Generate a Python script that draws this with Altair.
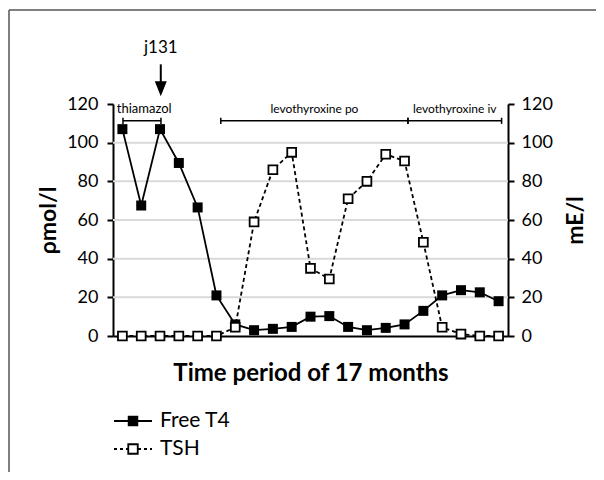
import altair as alt
import pandas as pd

FONT = "Lato"

# ---- data ----
months = list(range(21))
free_t4 = [107, 67.5, 107, 89.5, 66.5, 21, 6, 3, 3.7, 4.7, 10, 10.3, 4.7, 3, 4.2, 6, 13, 21, 23.7, 22.6, 18]
tsh = [0, 0, 0, 0, 0, 0, 4.5, 59, 86, 95, 35, 29.5, 71, 80, 94, 90.5, 48.5, 4.5, 1, 0, 0]
grid_values = [20, 40, 60, 80, 100]
y_ticks = [0, 20, 40, 60, 80, 100, 120]

bracket_labels = ["thiamazol", "levothyroxine po", "levothyroxine iv"]
bracket_start = [0.03, 5.23, 15.18]
bracket_end = [2.05, 15.18, 20.16]
label_x = [-0.3, 10.21, 17.67]
bracket_level = 111.3
label_level = 117.5

arrow_label = "j131"
arrow_x = 2.04
arrow_top = 140.5
arrow_bottom = 128.5
arrow_head = 127.9
arrow_text = 149.0

legend_labels = ["Free T4", "TSH"]

# ---- tables ----
df = pd.DataFrame({"i": months, "t4": free_t4, "tsh": tsh})
grid_df = pd.DataFrame({"g": grid_values})
br_df = pd.DataFrame({"xs": bracket_start, "xe": bracket_end,
                      "y": [bracket_level] * 3})
ends = bracket_start + bracket_end
br_end_df = pd.DataFrame({"x": ends,
                          "y1": [bracket_level - 1.6] * len(ends),
                          "y2": [bracket_level + 1.6] * len(ends)})
lab_df = pd.DataFrame({"x": label_x, "y": [label_level] * 3, "t": bracket_labels})
arrow_df = pd.DataFrame({"x": [arrow_x], "y1": [arrow_top], "y2": [arrow_bottom],
                         "h": [arrow_head], "ty": [arrow_text], "t": [arrow_label]})

xs = alt.Scale(domain=[-0.5, 20.5], nice=False, zero=False)
xaxis = alt.Axis(labels=False, ticks=False, grid=False, domainColor="black",
                 domainWidth=2, title="Time period of 17 months", titleFont=FONT,
                 titleFontSize=24, titleFontWeight="bold", titleColor="black",
                 titleY=37, titleBaseline="middle")
ys = alt.Scale(domain=[0, 120], nice=False, zero=True)

yaxis_left = alt.Axis(orient="left", values=y_ticks, grid=False, domainColor="black",
                      domainWidth=2, tickColor="black", tickWidth=2, tickSize=6,
                      labelFont=FONT, labelFontSize=18, labelColor="black",
                      labelPadding=9, title="ρmol/l", titleFont=FONT, titleFontSize=23,
                      titleFontWeight="bold", titleColor="black", titleX=-65,
                      titleBaseline="middle", titleAngle=270)
yaxis_right = alt.Axis(orient="right", values=y_ticks, grid=False, domainColor="black",
                       domainWidth=2, tickColor="black", tickWidth=2, tickSize=6,
                       labelFont=FONT, labelFontSize=18, labelColor="black",
                       labelPadding=7, title="mE/l", titleFont=FONT, titleFontSize=23,
                       titleFontWeight="bold", titleColor="black", titleX=67,
                       titleBaseline="middle", titleAngle=270)


def X(f):
    return alt.X(f, type="quantitative", scale=xs, axis=xaxis)


def YL(f):
    return alt.Y(f, type="quantitative", scale=ys, axis=yaxis_left)


def YR(f):
    return alt.Y(f, type="quantitative", scale=ys, axis=yaxis_right)


base = alt.Chart(df)

grid = alt.Chart(grid_df).mark_rule(color="#d9d9d9", strokeWidth=2).encode(
    y=YL("g:Q"))

t4_line = base.mark_line(color="black", strokeWidth=1.8).encode(x=X("i"), y=YL("t4"))
t4_pts = base.mark_point(shape="square", size=100, filled=True, color="black",
                         opacity=1).encode(x=X("i"), y=YL("t4"))

brackets = alt.Chart(br_df).mark_rule(color="black", strokeWidth=1.5).encode(
    x=X("xs"), x2="xe", y=YL("y"))
br_ends = alt.Chart(br_end_df).mark_rule(color="black", strokeWidth=1.5).encode(
    x=X("x"), y=YL("y1"), y2="y2")
lab_left = alt.Chart(lab_df.iloc[[0]]).mark_text(
    font=FONT, fontSize=13, align="left", baseline="middle", color="black").encode(
    x=X("x"), y=YL("y"), text="t")
lab_center = alt.Chart(lab_df.iloc[1:]).mark_text(
    font=FONT, fontSize=12, align="center", baseline="middle", color="black").encode(
    x=X("x"), y=YL("y"), text="t")

arrow_shaft = alt.Chart(arrow_df).mark_rule(color="black", strokeWidth=2).encode(
    x=X("x"), y=YL("y1"), y2="y2")
arrow_tip = alt.Chart(arrow_df).mark_point(
    shape="M-0.8,-1L0.8,-1L0,1Z", size=225, filled=True, color="black", opacity=1).encode(
    x=X("x"), y=YL("h"))
arrow_txt = alt.Chart(arrow_df).mark_text(
    font=FONT, fontSize=17, align="center", baseline="middle", color="black").encode(
    x=X("x"), y=YL("ty"), text="t")

left = alt.layer(grid, t4_line, t4_pts, brackets, br_ends, lab_left, lab_center,
                 arrow_shaft, arrow_tip, arrow_txt)

tsh_line = base.mark_line(color="black", strokeWidth=1.8, strokeDash=[4, 3]).encode(
    x=X("i"), y=YR("tsh"))
tsh_pts = base.mark_point(shape="square", size=78, filled=True, fill="white",
                          stroke="black", strokeWidth=1.8, opacity=1).encode(
    x=X("i"), y=YR("tsh"))

right = alt.layer(tsh_line, tsh_pts)

# ---- legend and frame (pixel placement) ----
one = pd.DataFrame({"t": [legend_labels[0]]})
two = pd.DataFrame({"t": [legend_labels[1]]})
leg1_line = alt.Chart(one).mark_rule(color="black", strokeWidth=1.8).encode(
    x=alt.value(1), x2=alt.value(39), y=alt.value(317))
leg1_pt = alt.Chart(one).mark_point(shape="square", size=110, filled=True, color="black",
                                    opacity=1).encode(x=alt.value(20), y=alt.value(317))
leg1_txt = alt.Chart(one).mark_text(font=FONT, fontSize=21, align="left",
                                    baseline="middle", color="black").encode(
    x=alt.value(47), y=alt.value(317), text="t")
leg2_line = alt.Chart(two).mark_rule(color="black", strokeWidth=1.8,
                                     strokeDash=[3, 3]).encode(
    x=alt.value(1), x2=alt.value(39), y=alt.value(345))
leg2_pt = alt.Chart(two).mark_point(shape="square", size=90, filled=True, fill="white",
                                    stroke="black", strokeWidth=1.8, opacity=1).encode(
    x=alt.value(20), y=alt.value(345))
leg2_txt = alt.Chart(two).mark_text(font=FONT, fontSize=21, align="left",
                                    baseline="middle", color="black").encode(
    x=alt.value(47), y=alt.value(345), text="t")
frame_top = alt.Chart(one).mark_rule(color="#555555", strokeWidth=1.5).encode(
    x=alt.value(-104), x2=alt.value(900), y=alt.value(-94))
frame_left = alt.Chart(one).mark_rule(color="#555555", strokeWidth=1.5).encode(
    x=alt.value(-104), y=alt.value(-94), y2=alt.value(900))

extras = alt.layer(frame_top, frame_left, leg1_line, leg1_pt, leg1_txt,
                   leg2_line, leg2_pt, leg2_txt)

chart = alt.layer(left, right, extras).resolve_scale(y="independent").properties(
    width=395, height=232,
    autosize=alt.AutoSizeParams(type="none"),
    padding={"left": 105, "top": 96, "right": 88, "bottom": 136},
    background="white",
).configure_view(stroke=None)

chart.save("out.html", embed_options={"renderer": "svg", "actions": False})
